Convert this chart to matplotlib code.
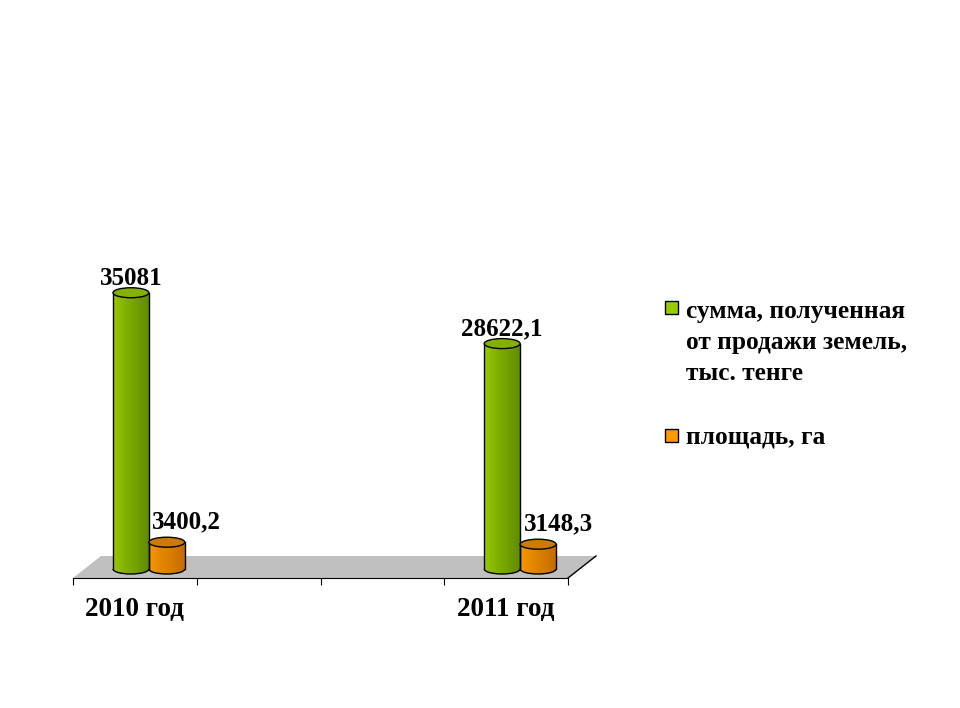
import matplotlib.pyplot as plt
import matplotlib.colors as mcolors
import numpy as np
from matplotlib.patches import Ellipse, Arc, Polygon, Rectangle

plt.rcParams['font.family'] = ['Liberation Serif', 'DejaVu Serif']
plt.rcParams['font.weight'] = 'bold'

# data (4 category slots, the middle two are empty in the original)
categories = ['2010 год', '', '', '2011 год']
sums = [35081, None, None, 28622.1]
areas = [3400.2, None, None, 3148.3]
series_names = [['сумма, полученная', 'от продажи земель,', 'тыс. тенге'], ['площадь, га']]
series_colors = [('#a3d400', '#5f8c00', '#84b000'), ('#ffa000', '#c66c00', '#cc7a00')]
legend_colors = ['#99cc00', '#ff9900']

W, H = 960, 708
fig = plt.figure(figsize=(W / 100, H / 100), dpi=100)

# axes in pixel geometry of the reference
ax_left, ax_right, ax_bottom, ax_top = 73, 568, 578, 200
ax = fig.add_axes([ax_left / W, 1 - ax_bottom / H, (ax_right - ax_left) / W, (ax_bottom - ax_top) / H])
YMAX = 48000
ax.set_xlim(-0.5, len(categories) - 0.5)
ax.set_ylim(0, YMAX)

# unit per pixel
ux = len(categories) / (ax_right - ax_left)
uy = YMAX / (ax_bottom - ax_top)

# floor (3D depth)
dep_x, dep_y = 28 * ux, 22 * uy
floor = Polygon([(-0.5, 0), (-0.5 + dep_x, dep_y), (3.5 + dep_x, dep_y), (3.5, 0)],
                closed=True, facecolor='#c0c0c0', edgecolor='none', zorder=0, clip_on=False)
ax.add_patch(floor)
ax.plot([3.5, 3.5 + dep_x], [0, dep_y], color='black', lw=1, zorder=1, clip_on=False)

# bars sit at mid-depth of the floor
base_x, base_y = 14 * ux, 9 * uy
bar_w = 0.29
ell_h = 10 * uy
n_strips = 24


def cylinder(xc, value, cols):
    left_c, right_c, top_c = [np.array(mcolors.to_rgb(c)) for c in cols]
    xc = xc + base_x
    a = bar_w / 2
    xs = np.linspace(xc - a, xc + a, n_strips + 1)
    mids = (xs[:-1] + xs[1:]) / 2
    t = (mids - xs[0]) / (2 * a)
    # light band slightly left of center, darker on the right
    shade = np.clip(np.where(t < 0.3, 0.15 + t, 0.45 + (t - 0.3) * 0.8), 0, 1)
    bottoms = base_y - (ell_h / 2) * np.sqrt(np.clip(1 - ((mids - xc) / a) ** 2, 0, 1))
    tops = base_y + value
    for m, b, s in zip(mids, bottoms, shade):
        col = left_c * (1 - s) + right_c * s
        ax.bar(m, tops - b, width=(xs[1] - xs[0]) * 1.05, bottom=b, color=col,
               edgecolor='none', zorder=2, clip_on=False)
    ax.add_patch(Arc((xc, base_y), 2 * a, ell_h, theta1=180, theta2=360,
                     color='black', lw=1, zorder=3, clip_on=False))
    ax.plot([xc - a, xc - a], [base_y, tops], color='black', lw=1, zorder=3, clip_on=False)
    ax.plot([xc + a, xc + a], [base_y, tops], color='black', lw=1, zorder=3, clip_on=False)
    ax.add_patch(Ellipse((xc, tops), 2 * a, ell_h, facecolor=top_c, edgecolor='black',
                         lw=1, zorder=3, clip_on=False))
    return xc, tops


def fmt(v):
    return ('%g' % v).replace('.', ',')


for i, cat in enumerate(categories):
    if sums[i] is not None:
        xc, top = cylinder(i - 0.145, sums[i], series_colors[0])
        ax.text(xc, top + 8 * uy, fmt(sums[i]), ha='center', va='baseline',
                fontsize=18, fontweight='bold', zorder=5)
    if areas[i] is not None:
        xc, top = cylinder(i + 0.145, areas[i], series_colors[1])
        ax.text(xc + 20 * ux, top + 14 * uy, fmt(areas[i]), ha='center', va='baseline',
                fontsize=18, fontweight='bold', zorder=5)

# axes styling
for s in ['left', 'right', 'top']:
    ax.spines[s].set_visible(False)
ax.spines['bottom'].set_color('black')
ax.spines['bottom'].set_zorder(1)
ax.set_yticks([])
ax.set_xticks(np.arange(len(categories) + 1) - 0.5)
ax.set_xticklabels([])
ax.tick_params(axis='x', which='major', length=5, direction='out', color='black')
ax.set_xticks(np.arange(len(categories)), minor=True)
ax.set_xticklabels(categories, minor=True, fontsize=19.5, fontweight='bold')
ax.tick_params(axis='x', which='minor', length=0, pad=14)
ax.patch.set_visible(False)

# legend (each line placed on its own baseline)
leg_x = 665 / W
square_y = [301, 429]
line_baselines = [[318, 349, 380], [443]]
for lines, col, yp, bases in zip(series_names, legend_colors, square_y, line_baselines):
    fig.patches.append(Rectangle((leg_x, 1 - (yp + 13) / H), 13 / W, 13 / H,
                                 transform=fig.transFigure, facecolor=col,
                                 edgecolor='black', lw=1))
    for line, b in zip(lines, bases):
        fig.text(686 / W, 1 - b / H, line, ha='left', va='baseline', fontsize=18.3,
                 fontweight='bold')

fig.savefig('out.png', dpi=100)
